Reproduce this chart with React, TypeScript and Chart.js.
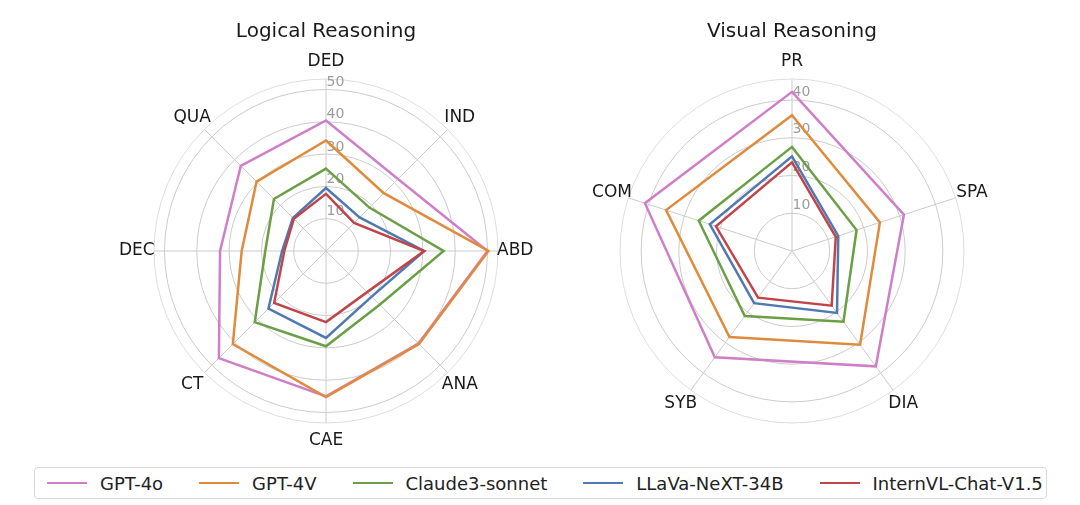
import React, { useEffect, useRef } from 'react';
import { Chart, registerables } from 'chart.js';

Chart.register(...registerables);

// ---------- data ----------
const seriesNames = ['GPT-4o', 'GPT-4V', 'Claude3-sonnet', 'LLaVa-NeXT-34B', 'InternVL-Chat-V1.5'];
const seriesColors = ['#cf7fc8', '#e08a3c', '#6a9f45', '#4f79b0', '#c0454a'];

const logicalTitle = 'Logical Reasoning';
const logicalLabels = ['DED', 'IND', 'ABD', 'ANA', 'CAE', 'CT', 'DEC', 'QUA'];
const gpt4oLogical = [40.4, 31.5, 50.0, 40.5, 45.0, 46.9, 32.8, 37.3];
const gpt4vLogical = [34.2, 25.3, 50.3, 40.7, 45.2, 40.8, 26.1, 30.4];
const claudeLogical = [25.5, 19.0, 36.4, 23.5, 29.5, 31.2, 18.8, 22.8];
const llavaLogical = [19.5, 14.7, 30.4, 20.0, 26.9, 25.2, 13.6, 14.5];
const internLogical = [17.7, 12.3, 30.4, 18.0, 22.0, 22.7, 12.9, 14.1];
const logicalMax = 53.25;

const visualTitle = 'Visual Reasoning';
const visualLabels = ['PR', 'SPA', 'DIA', 'SYB', 'COM'];
const gpt4oVisual = [42.2, 31.2, 37.8, 34.8, 41.0];
const gpt4vVisual = [36.0, 24.5, 30.7, 28.2, 35.1];
const claudeVisual = [27.6, 18.0, 23.2, 21.3, 26.0];
const llavaVisual = [25.1, 12.9, 20.3, 17.1, 22.9];
const internVisual = [23.5, 12.2, 17.9, 15.3, 21.2];
const visualMax = 45.6;

const tickStep = 10;

const FONT = '"DejaVu Sans", "Liberation Sans", sans-serif';

function makeOverlay(title: string, tickOffsetY: number) {
  return {
    id: 'overlay',
    beforeDatasetsDraw(chart: any) {
      const s: any = chart.scales.r;
      const ctx = chart.ctx;
      ctx.save();
      ctx.beginPath();
      ctx.arc(s.xCenter, s.yCenter, s.drawingArea, 0, Math.PI * 2);
      ctx.strokeStyle = '#dedede';
      ctx.lineWidth = 1;
      ctx.stroke();
      ctx.font = '14px ' + FONT;
      ctx.fillStyle = '#9c9c9c';
      ctx.textAlign = 'left';
      ctx.textBaseline = 'middle';
      s.ticks.forEach((t: any) => {
        if (t.value > 0) {
          const d = s.getDistanceFromCenterForValue(t.value);
          ctx.fillText(String(t.value), s.xCenter + 0.5, s.yCenter - d - tickOffsetY);
        }
      });
      ctx.restore();
    },
    afterDraw(chart: any) {
      const s: any = chart.scales.r;
      const ctx = chart.ctx;
      ctx.save();
      ctx.fillStyle = '#1a1a1a';
      ctx.font = '17px ' + FONT;
      ctx.textAlign = 'center';
      ctx.textBaseline = 'middle';
      (chart.data.labels as string[]).forEach((lab, i) => {
        const p = s.getPointPosition(i, s.drawingArea * 1.1);
        ctx.fillText(lab, p.x, p.y);
      });
      ctx.font = '20px ' + FONT;
      ctx.textBaseline = 'alphabetic';
      ctx.fillText(title, s.xCenter, 36.5);
      ctx.restore();
    },
  };
}

function RadarPanel(props: {
  title: string;
  labels: string[];
  series: number[][];
  max: number;
  padLeft: number;
  padRight: number;
  tickOffsetY: number;
}) {
  const ref = useRef<HTMLCanvasElement | null>(null);
  useEffect(() => {
    if (!ref.current) return;
    const chart = new Chart(ref.current, {
      type: 'radar',
      data: {
        labels: props.labels,
        datasets: props.series.map((d, i) => ({
          label: seriesNames[i],
          data: d,
          borderColor: seriesColors[i],
          backgroundColor: 'transparent',
          borderWidth: 2.5,
          pointRadius: 0,
          pointHoverRadius: 0,
          fill: false,
          order: seriesNames.length - i,
        })),
      },
      options: {
        responsive: false,
        animation: false,
        events: [],
        layout: { padding: { left: props.padLeft, right: props.padRight, top: 79, bottom: 37 } },
        elements: { line: { tension: 0, borderJoinStyle: 'miter' } },
        plugins: { legend: { display: false }, title: { display: false }, tooltip: { enabled: false } },
        scales: {
          r: {
            min: 0,
            max: props.max,
            ticks: { stepSize: tickStep, display: false, includeBounds: false },
            grid: { circular: true, color: '#cbcbcb', lineWidth: 1 },
            angleLines: { display: true, color: '#cbcbcb', lineWidth: 1 },
            pointLabels: { display: false },
          },
        },
      } as any,
      plugins: [makeOverlay(props.title, props.tickOffsetY)],
    });
    return () => chart.destroy();
  }, []);
  return <canvas ref={ref} width={540} height={460} style={{ width: 540, height: 460, display: 'block' }} />;
}

export default function App() {
  return (
    <div style={{ position: 'fixed', left: 0, top: 0, width: 1080, height: 505, background: '#fff', overflow: 'hidden' }}>
      <div style={{ position: 'absolute', left: 0, top: 0 }}>
        <RadarPanel
          title={logicalTitle}
          labels={logicalLabels}
          series={[gpt4oLogical, gpt4vLogical, claudeLogical, llavaLogical, internLogical]}
          max={logicalMax}
          padLeft={154}
          padRight={42}
          tickOffsetY={7}
        />
      </div>
      <div style={{ position: 'absolute', left: 540, top: 0 }}>
        <RadarPanel
          title={visualTitle}
          labels={visualLabels}
          series={[gpt4oVisual, gpt4vVisual, claudeVisual, llavaVisual, internVisual]}
          max={visualMax}
          padLeft={80}
          padRight={116}
          tickOffsetY={8}
        />
      </div>
      <div
        style={{
          position: 'absolute',
          left: 34,
          top: 467,
          width: 1013,
          height: 32,
          boxSizing: 'border-box',
          border: '1px solid #d9d9d9',
          borderRadius: 4,
          display: 'flex',
          alignItems: 'center',
          paddingLeft: 12,
          fontFamily: FONT,
          fontSize: 18,
          color: '#222',
          whiteSpace: 'nowrap',
        }}
      >
        {seriesNames.map((n, i) => (
          <div key={n} style={{ display: 'flex', alignItems: 'center', marginRight: 36 }}>
            <span style={{ display: 'inline-block', width: 40, height: 2.5, background: seriesColors[i], marginRight: 13 }} />
            <span>{n}</span>
          </div>
        ))}
      </div>
    </div>
  );
}
